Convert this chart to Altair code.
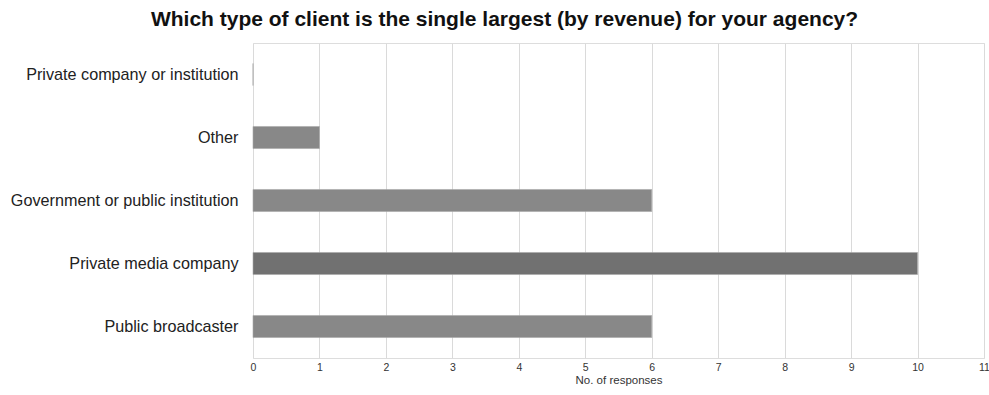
import altair as alt
import pandas as pd

categories = [
    "Private company or institution",
    "Other",
    "Government or public institution",
    "Private media company",
    "Public broadcaster",
]
responses = [0, 1, 6, 10, 6]
bar_colors = ["#888888", "#888888", "#888888", "#717171", "#888888"]
x_ticks = list(range(0, 12))

df = pd.DataFrame({"category": categories, "responses": responses, "color": bar_colors})

chart = (
    alt.Chart(df)
    .mark_bar(stroke="#a8a8a8", strokeWidth=0.6)
    .encode(
        x=alt.X(
            "responses:Q",
            scale=alt.Scale(domain=[0, 11], nice=False),
            axis=alt.Axis(
                values=x_ticks,
                title="No. of responses",
                grid=True,
                gridColor="#dadada",
                gridWidth=1,
                domain=False,
                ticks=False,
                labelFlush=False,
                labelFontSize=10.5,
                labelColor="#333333",
                labelFont="Liberation Sans",
                labelPadding=4,
                titleFontSize=11.5,
                titleFontWeight="normal",
                titleColor="#333333",
                titleFont="Liberation Sans",
                titlePadding=2,
            ),
        ),
        y=alt.Y(
            "category:N",
            sort=categories,
            scale=alt.Scale(paddingInner=0.65, paddingOuter=0.325),
            axis=alt.Axis(
                title=None,
                domain=False,
                ticks=False,
                labelFontSize=16.2,
                labelColor="#222222",
                labelFont="Liberation Sans",
                labelPadding=15,
                labelLimit=400,
            ),
        ),
        color=alt.Color("color:N", scale=None),
    )
    .properties(
        width=731,
        height=315,
        padding={"left": 253, "top": 43, "right": 5, "bottom": 37},
        autosize=alt.AutoSizeParams(type="none"),
        title=alt.TitleParams(
            "Which type of client is the single largest (by revenue) for your agency?",
            fontSize=21,
            font="Liberation Sans",
            fontWeight="bold",
            color="#111111",
            anchor="middle",
            frame="group",
            dx=-114,
            offset=13,
        ),
    )
    .configure_view(stroke=None)
    .configure(background="white")
)

chart.save("out.html", embed_options={"renderer": "svg", "actions": False})
